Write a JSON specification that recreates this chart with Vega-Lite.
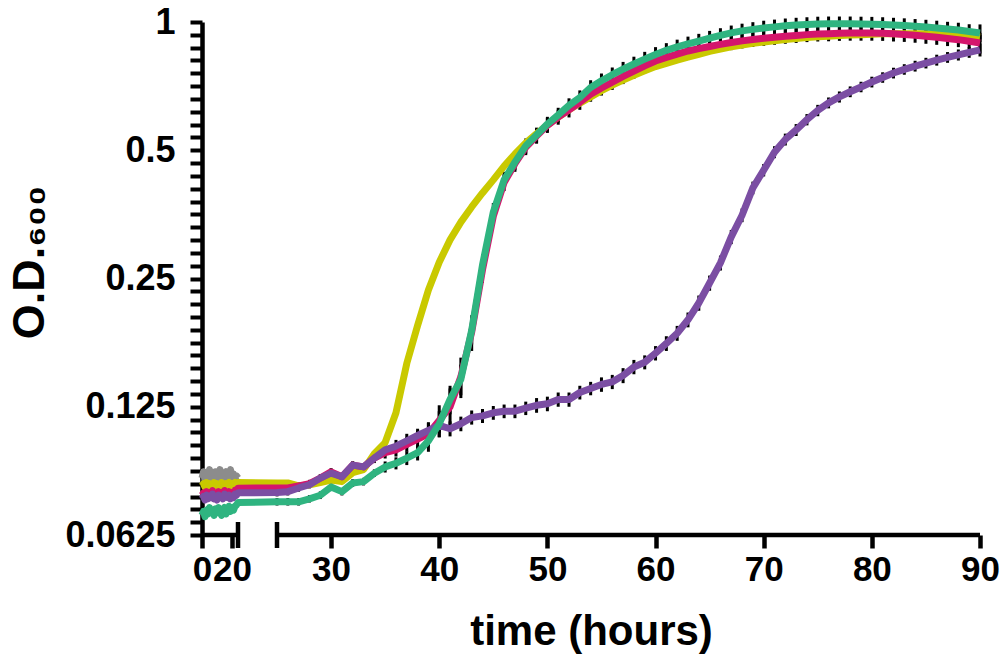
{
  "$schema": "https://vega.github.io/schema/vega-lite/v6.json",
  "width": 778,
  "height": 513,
  "autosize": "none",
  "padding": {"left": 202, "top": 22, "right": 22, "bottom": 127},
  "config": {
    "font": "Liberation Sans",
    "view": {"stroke": null},
    "axis": {
      "grid": false,
      "labelFont": "Liberation Sans",
      "labelFontWeight": "bold",
      "labelColor": "black",
      "labelOverlap": false,
      "labelFlush": false,
      "labelBound": false,
      "tickColor": "black",
      "domainColor": "black",
      "titleFont": "Liberation Sans",
      "titleFontWeight": "bold",
      "titleColor": "black"
    },
    "axisX": {
      "domain": false,
      "tickSize": 13,
      "tickWidth": 4.5,
      "labelFontSize": 35,
      "labelPadding": 4,
      "titleFontSize": 42,
      "titlePadding": 24
    },
    "axisY": {
      "domain": true,
      "domainWidth": 4.5,
      "tickSize": 12,
      "tickWidth": 4,
      "labelFontSize": 36,
      "labelPadding": 15,
      "titleFontSize": 45,
      "titlePadding": 12,
      "titleY": 240
    }
  },
  "datasets": {
    "xbreak": [
      {"x1": 0, "x2": 24, "cap": 24},
      {"x1": 25, "x2": 90, "cap": 25}
    ],
    "curves": [
      {"g":"a","t":0,"v":0.085},{"g":"a","t":1,"v":0.088},{"g":"a","t":2,"v":0.084},{"g":"a","t":3,"v":0.087},{"g":"a","t":4,"v":0.086},
      {"g":"a","t":5,"v":0.089},{"g":"a","t":6,"v":0.085},{"g":"a","t":7,"v":0.087},{"g":"a","t":8,"v":0.084},{"g":"a","t":9,"v":0.088},
      {"g":"a","t":10,"v":0.086},{"g":"a","t":11,"v":0.085},{"g":"a","t":12,"v":0.089},{"g":"a","t":13,"v":0.086},{"g":"a","t":14,"v":0.084},
      {"g":"a","t":15,"v":0.087},{"g":"a","t":16,"v":0.088},{"g":"a","t":17,"v":0.085},{"g":"a","t":18,"v":0.086},{"g":"a","t":19,"v":0.089},
      {"g":"a","t":20,"v":0.084},{"g":"a","t":21,"v":0.087},{"g":"a","t":22,"v":0.085},{"g":"a","t":23,"v":0.086},{"g":"a","t":24,"v":0.085},

      {"g":"b","t":0,"v":0.0815},{"g":"b","t":1,"v":0.0825},{"g":"b","t":2,"v":0.081},{"g":"b","t":3,"v":0.083},{"g":"b","t":4,"v":0.0815},
      {"g":"b","t":5,"v":0.0825},{"g":"b","t":6,"v":0.082},{"g":"b","t":7,"v":0.081},{"g":"b","t":8,"v":0.083},{"g":"b","t":9,"v":0.0815},
      {"g":"b","t":10,"v":0.0825},{"g":"b","t":11,"v":0.082},{"g":"b","t":12,"v":0.0815},{"g":"b","t":13,"v":0.083},{"g":"b","t":14,"v":0.082},
      {"g":"b","t":15,"v":0.081},{"g":"b","t":16,"v":0.0825},{"g":"b","t":17,"v":0.082},{"g":"b","t":18,"v":0.083},{"g":"b","t":19,"v":0.0815},
      {"g":"b","t":20,"v":0.0825},{"g":"b","t":21,"v":0.082},{"g":"b","t":22,"v":0.083},{"g":"b","t":23,"v":0.0825},{"g":"b","t":24,"v":0.083},
      {"g":"b","t":25,"v":0.0828,"err":0.001},{"g":"b","t":26,"v":0.0828,"err":0.001},{"g":"b","t":27,"v":0.0815,"err":0.001},{"g":"b","t":28,"v":0.082,"err":0.001},
      {"g":"b","t":29,"v":0.083,"err":0.001},{"g":"b","t":30,"v":0.0841,"err":0.001},{"g":"b","t":31,"v":0.0834,"err":0.001},{"g":"b","t":32,"v":0.0875,"err":0.001},
      {"g":"b","t":33,"v":0.089,"err":0.001},{"g":"b","t":34,"v":0.097,"err":0.0012},{"g":"b","t":35,"v":0.103,"err":0.0012},{"g":"b","t":36,"v":0.121,"err":0.0015},
      {"g":"b","t":37,"v":0.158,"err":0.002},{"g":"b","t":38,"v":0.194,"err":0.0025},{"g":"b","t":39,"v":0.235,"err":0.003},{"g":"b","t":40,"v":0.273,"err":0.0035},
      {"g":"b","t":41,"v":0.308,"err":0.004},{"g":"b","t":42,"v":0.339,"err":0.004},{"g":"b","t":43,"v":0.368,"err":0.0045},{"g":"b","t":44,"v":0.397,"err":0.005},
      {"g":"b","t":45,"v":0.426,"err":0.005},{"g":"b","t":46,"v":0.459,"err":0.0055},{"g":"b","t":47,"v":0.49,"err":0.006},{"g":"b","t":48,"v":0.52,"err":0.006},
      {"g":"b","t":49,"v":0.547,"err":0.0065},{"g":"b","t":50,"v":0.573,"err":0.007},{"g":"b","t":51,"v":0.598,"err":0.007},{"g":"b","t":52,"v":0.622,"err":0.0075},
      {"g":"b","t":53,"v":0.645,"err":0.008},{"g":"b","t":54,"v":0.667,"err":0.008},{"g":"b","t":55,"v":0.69,"err":0.008},{"g":"b","t":56,"v":0.711,"err":0.0085},
      {"g":"b","t":57,"v":0.731,"err":0.009},{"g":"b","t":58,"v":0.75,"err":0.009},{"g":"b","t":59,"v":0.768,"err":0.009},{"g":"b","t":60,"v":0.786,"err":0.0095},
      {"g":"b","t":61,"v":0.8,"err":0.0095},{"g":"b","t":62,"v":0.814,"err":0.01},{"g":"b","t":63,"v":0.827,"err":0.01},{"g":"b","t":64,"v":0.84,"err":0.01},
      {"g":"b","t":65,"v":0.853,"err":0.01},{"g":"b","t":66,"v":0.864,"err":0.01},{"g":"b","t":67,"v":0.874,"err":0.0105},{"g":"b","t":68,"v":0.883,"err":0.0105},
      {"g":"b","t":69,"v":0.891,"err":0.011},{"g":"b","t":70,"v":0.898,"err":0.011},{"g":"b","t":71,"v":0.904,"err":0.011},{"g":"b","t":72,"v":0.91,"err":0.011},
      {"g":"b","t":73,"v":0.915,"err":0.011},{"g":"b","t":74,"v":0.919,"err":0.011},{"g":"b","t":75,"v":0.923,"err":0.011},{"g":"b","t":76,"v":0.926,"err":0.011},
      {"g":"b","t":77,"v":0.929,"err":0.011},{"g":"b","t":78,"v":0.932,"err":0.011},{"g":"b","t":79,"v":0.934,"err":0.011},{"g":"b","t":80,"v":0.936,"err":0.011},
      {"g":"b","t":81,"v":0.938,"err":0.011},{"g":"b","t":82,"v":0.939,"err":0.011},{"g":"b","t":83,"v":0.939,"err":0.011},{"g":"b","t":84,"v":0.939,"err":0.011},
      {"g":"b","t":85,"v":0.938,"err":0.011},{"g":"b","t":86,"v":0.936,"err":0.011},{"g":"b","t":87,"v":0.934,"err":0.011},{"g":"b","t":88,"v":0.932,"err":0.011},
      {"g":"b","t":89,"v":0.928,"err":0.011},{"g":"b","t":90,"v":0.922,"err":0.011},

      {"g":"c","t":0,"v":0.0775},{"g":"c","t":1,"v":0.0785},{"g":"c","t":2,"v":0.0765},{"g":"c","t":3,"v":0.079},{"g":"c","t":4,"v":0.077},
      {"g":"c","t":5,"v":0.0785},{"g":"c","t":6,"v":0.0775},{"g":"c","t":7,"v":0.0795},{"g":"c","t":8,"v":0.077},{"g":"c","t":9,"v":0.078},
      {"g":"c","t":10,"v":0.0765},{"g":"c","t":11,"v":0.079},{"g":"c","t":12,"v":0.0775},{"g":"c","t":13,"v":0.0785},{"g":"c","t":14,"v":0.077},
      {"g":"c","t":15,"v":0.0795},{"g":"c","t":16,"v":0.078},{"g":"c","t":17,"v":0.0775},{"g":"c","t":18,"v":0.079},{"g":"c","t":19,"v":0.077},
      {"g":"c","t":20,"v":0.0785},{"g":"c","t":21,"v":0.078},{"g":"c","t":22,"v":0.0795},{"g":"c","t":23,"v":0.079},{"g":"c","t":24,"v":0.0805},
      {"g":"c","t":25,"v":0.0806,"err":0.0016},{"g":"c","t":26,"v":0.0806,"err":0.0016},{"g":"c","t":27,"v":0.0815,"err":0.0016},{"g":"c","t":28,"v":0.0825,"err":0.0017},
      {"g":"c","t":29,"v":0.085,"err":0.0017},{"g":"c","t":30,"v":0.0879,"err":0.0018},{"g":"c","t":31,"v":0.0856,"err":0.0017},{"g":"c","t":32,"v":0.0912,"err":0.0018},
      {"g":"c","t":33,"v":0.0903,"err":0.0018},{"g":"c","t":34,"v":0.0947,"err":0.002},{"g":"c","t":35,"v":0.0975,"err":0.003},{"g":"c","t":36,"v":0.099,"err":0.0035},
      {"g":"c","t":37,"v":0.102,"err":0.004},{"g":"c","t":38,"v":0.105,"err":0.005},{"g":"c","t":39,"v":0.108,"err":0.007},{"g":"c","t":40,"v":0.116,"err":0.01},
      {"g":"c","t":41,"v":0.125,"err":0.013},{"g":"c","t":42,"v":0.147,"err":0.016},{"g":"c","t":43,"v":0.187,"err":0.018},{"g":"c","t":44,"v":0.262,"err":0.018},
      {"g":"c","t":45,"v":0.35,"err":0.018},{"g":"c","t":46,"v":0.42,"err":0.019},{"g":"c","t":47,"v":0.465,"err":0.02},{"g":"c","t":48,"v":0.508,"err":0.021},
      {"g":"c","t":49,"v":0.54,"err":0.022},{"g":"c","t":50,"v":0.572,"err":0.023},{"g":"c","t":51,"v":0.598,"err":0.024},{"g":"c","t":52,"v":0.622,"err":0.025},
      {"g":"c","t":53,"v":0.648,"err":0.026},{"g":"c","t":54,"v":0.677,"err":0.027},{"g":"c","t":55,"v":0.7,"err":0.028},{"g":"c","t":56,"v":0.722,"err":0.029},
      {"g":"c","t":57,"v":0.745,"err":0.03},{"g":"c","t":58,"v":0.767,"err":0.031},{"g":"c","t":59,"v":0.789,"err":0.032},{"g":"c","t":60,"v":0.81,"err":0.032},
      {"g":"c","t":61,"v":0.826,"err":0.033},{"g":"c","t":62,"v":0.841,"err":0.034},{"g":"c","t":63,"v":0.855,"err":0.034},{"g":"c","t":64,"v":0.866,"err":0.035},
      {"g":"c","t":65,"v":0.876,"err":0.035},{"g":"c","t":66,"v":0.886,"err":0.035},{"g":"c","t":67,"v":0.895,"err":0.036},{"g":"c","t":68,"v":0.903,"err":0.036},
      {"g":"c","t":69,"v":0.91,"err":0.036},{"g":"c","t":70,"v":0.916,"err":0.037},{"g":"c","t":71,"v":0.921,"err":0.037},{"g":"c","t":72,"v":0.926,"err":0.037},
      {"g":"c","t":73,"v":0.93,"err":0.037},{"g":"c","t":74,"v":0.934,"err":0.037},{"g":"c","t":75,"v":0.937,"err":0.037},{"g":"c","t":76,"v":0.939,"err":0.038},
      {"g":"c","t":77,"v":0.941,"err":0.038},{"g":"c","t":78,"v":0.942,"err":0.038},{"g":"c","t":79,"v":0.942,"err":0.038},{"g":"c","t":80,"v":0.942,"err":0.038},
      {"g":"c","t":81,"v":0.941,"err":0.038},{"g":"c","t":82,"v":0.938,"err":0.038},{"g":"c","t":83,"v":0.935,"err":0.037},{"g":"c","t":84,"v":0.931,"err":0.037},
      {"g":"c","t":85,"v":0.926,"err":0.037},{"g":"c","t":86,"v":0.921,"err":0.037},{"g":"c","t":87,"v":0.915,"err":0.037},{"g":"c","t":88,"v":0.909,"err":0.036},
      {"g":"c","t":89,"v":0.901,"err":0.036},{"g":"c","t":90,"v":0.893,"err":0.05},

      {"g":"d","t":0,"v":0.076},{"g":"d","t":1,"v":0.077},{"g":"d","t":2,"v":0.0755},{"g":"d","t":3,"v":0.0775},{"g":"d","t":4,"v":0.076},
      {"g":"d","t":5,"v":0.077},{"g":"d","t":6,"v":0.0765},{"g":"d","t":7,"v":0.078},{"g":"d","t":8,"v":0.076},{"g":"d","t":9,"v":0.077},
      {"g":"d","t":10,"v":0.0755},{"g":"d","t":11,"v":0.0775},{"g":"d","t":12,"v":0.0765},{"g":"d","t":13,"v":0.077},{"g":"d","t":14,"v":0.076},
      {"g":"d","t":15,"v":0.078},{"g":"d","t":16,"v":0.077},{"g":"d","t":17,"v":0.0765},{"g":"d","t":18,"v":0.0775},{"g":"d","t":19,"v":0.076},
      {"g":"d","t":20,"v":0.077},{"g":"d","t":21,"v":0.0765},{"g":"d","t":22,"v":0.078},{"g":"d","t":23,"v":0.0775},{"g":"d","t":24,"v":0.0785},
      {"g":"d","t":25,"v":0.0786,"err":0.0016},{"g":"d","t":26,"v":0.079,"err":0.0016},{"g":"d","t":27,"v":0.0806,"err":0.0016},{"g":"d","t":28,"v":0.082,"err":0.0016},
      {"g":"d","t":29,"v":0.085,"err":0.0017},{"g":"d","t":30,"v":0.0873,"err":0.0017},{"g":"d","t":31,"v":0.0856,"err":0.0017},{"g":"d","t":32,"v":0.0912,"err":0.0018},
      {"g":"d","t":33,"v":0.0903,"err":0.0018},{"g":"d","t":34,"v":0.0947,"err":0.0025},{"g":"d","t":35,"v":0.099,"err":0.003},{"g":"d","t":36,"v":0.101,"err":0.0035},
      {"g":"d","t":37,"v":0.104,"err":0.004},{"g":"d","t":38,"v":0.107,"err":0.004},{"g":"d","t":39,"v":0.11,"err":0.0045},{"g":"d","t":40,"v":0.113,"err":0.0045},
      {"g":"d","t":41,"v":0.111,"err":0.0045},{"g":"d","t":42,"v":0.114,"err":0.0045},{"g":"d","t":43,"v":0.118,"err":0.0045},{"g":"d","t":44,"v":0.119,"err":0.0045},
      {"g":"d","t":45,"v":0.121,"err":0.0045},{"g":"d","t":46,"v":0.122,"err":0.0045},{"g":"d","t":47,"v":0.122,"err":0.0045},{"g":"d","t":48,"v":0.124,"err":0.0045},
      {"g":"d","t":49,"v":0.126,"err":0.005},{"g":"d","t":50,"v":0.127,"err":0.005},{"g":"d","t":51,"v":0.13,"err":0.005},{"g":"d","t":52,"v":0.13,"err":0.005},
      {"g":"d","t":53,"v":0.135,"err":0.005},{"g":"d","t":54,"v":0.138,"err":0.005},{"g":"d","t":55,"v":0.141,"err":0.0055},{"g":"d","t":56,"v":0.143,"err":0.0055},
      {"g":"d","t":57,"v":0.148,"err":0.006},{"g":"d","t":58,"v":0.155,"err":0.006},{"g":"d","t":59,"v":0.159,"err":0.006},{"g":"d","t":60,"v":0.167,"err":0.0065},
      {"g":"d","t":61,"v":0.176,"err":0.007},{"g":"d","t":62,"v":0.186,"err":0.0075},{"g":"d","t":63,"v":0.2,"err":0.008},{"g":"d","t":64,"v":0.219,"err":0.009},
      {"g":"d","t":65,"v":0.244,"err":0.01},{"g":"d","t":66,"v":0.272,"err":0.011},{"g":"d","t":67,"v":0.313,"err":0.012},{"g":"d","t":68,"v":0.352,"err":0.013},
      {"g":"d","t":69,"v":0.408,"err":0.014},{"g":"d","t":70,"v":0.449,"err":0.015},{"g":"d","t":71,"v":0.495,"err":0.016},{"g":"d","t":72,"v":0.53,"err":0.017},
      {"g":"d","t":73,"v":0.558,"err":0.018},{"g":"d","t":74,"v":0.59,"err":0.018},{"g":"d","t":75,"v":0.62,"err":0.019},{"g":"d","t":76,"v":0.646,"err":0.019},
      {"g":"d","t":77,"v":0.667,"err":0.02},{"g":"d","t":78,"v":0.686,"err":0.02},{"g":"d","t":79,"v":0.704,"err":0.02},{"g":"d","t":80,"v":0.723,"err":0.021},
      {"g":"d","t":81,"v":0.741,"err":0.021},{"g":"d","t":82,"v":0.759,"err":0.022},{"g":"d","t":83,"v":0.774,"err":0.022},{"g":"d","t":84,"v":0.788,"err":0.023},
      {"g":"d","t":85,"v":0.801,"err":0.023},{"g":"d","t":86,"v":0.814,"err":0.024},{"g":"d","t":87,"v":0.826,"err":0.024},{"g":"d","t":88,"v":0.837,"err":0.025},
      {"g":"d","t":89,"v":0.849,"err":0.025},{"g":"d","t":90,"v":0.86,"err":0.03},

      {"g":"e","t":0,"v":0.0695},{"g":"e","t":1,"v":0.071},{"g":"e","t":2,"v":0.069},{"g":"e","t":3,"v":0.0715},{"g":"e","t":4,"v":0.07},
      {"g":"e","t":5,"v":0.0725},{"g":"e","t":6,"v":0.0705},{"g":"e","t":7,"v":0.0715},{"g":"e","t":8,"v":0.0695},{"g":"e","t":9,"v":0.072},
      {"g":"e","t":10,"v":0.0705},{"g":"e","t":11,"v":0.0725},{"g":"e","t":12,"v":0.071},{"g":"e","t":13,"v":0.0695},{"g":"e","t":14,"v":0.0715},
      {"g":"e","t":15,"v":0.0725},{"g":"e","t":16,"v":0.07},{"g":"e","t":17,"v":0.0715},{"g":"e","t":18,"v":0.073},{"g":"e","t":19,"v":0.071},
      {"g":"e","t":20,"v":0.0725},{"g":"e","t":21,"v":0.0715},{"g":"e","t":22,"v":0.073},{"g":"e","t":23,"v":0.0735},{"g":"e","t":24,"v":0.0745},
      {"g":"e","t":25,"v":0.0748,"err":0.0015},{"g":"e","t":26,"v":0.0748,"err":0.0015},{"g":"e","t":27,"v":0.0748,"err":0.0015},{"g":"e","t":28,"v":0.076,"err":0.0015},
      {"g":"e","t":29,"v":0.0775,"err":0.0016},{"g":"e","t":30,"v":0.081,"err":0.0016},{"g":"e","t":31,"v":0.079,"err":0.0016},{"g":"e","t":32,"v":0.0828,"err":0.0017},
      {"g":"e","t":33,"v":0.0834,"err":0.0017},{"g":"e","t":34,"v":0.0873,"err":0.0018},{"g":"e","t":35,"v":0.0903,"err":0.0027},{"g":"e","t":36,"v":0.0921,"err":0.003},
      {"g":"e","t":37,"v":0.0947,"err":0.0035},{"g":"e","t":38,"v":0.0975,"err":0.004},{"g":"e","t":39,"v":0.104,"err":0.006},{"g":"e","t":40,"v":0.114,"err":0.008},
      {"g":"e","t":41,"v":0.13,"err":0.01},{"g":"e","t":42,"v":0.145,"err":0.012},{"g":"e","t":43,"v":0.189,"err":0.014},{"g":"e","t":44,"v":0.269,"err":0.016},
      {"g":"e","t":45,"v":0.358,"err":0.018},{"g":"e","t":46,"v":0.426,"err":0.019},{"g":"e","t":47,"v":0.469,"err":0.02},{"g":"e","t":48,"v":0.512,"err":0.021},
      {"g":"e","t":49,"v":0.543,"err":0.022},{"g":"e","t":50,"v":0.576,"err":0.023},{"g":"e","t":51,"v":0.605,"err":0.024},{"g":"e","t":52,"v":0.637,"err":0.025},
      {"g":"e","t":53,"v":0.665,"err":0.026},{"g":"e","t":54,"v":0.702,"err":0.028},{"g":"e","t":55,"v":0.728,"err":0.029},{"g":"e","t":56,"v":0.752,"err":0.03},
      {"g":"e","t":57,"v":0.775,"err":0.031},{"g":"e","t":58,"v":0.797,"err":0.032},{"g":"e","t":59,"v":0.818,"err":0.033},{"g":"e","t":60,"v":0.839,"err":0.034},
      {"g":"e","t":61,"v":0.858,"err":0.034},{"g":"e","t":62,"v":0.874,"err":0.035},{"g":"e","t":63,"v":0.888,"err":0.036},{"g":"e","t":64,"v":0.902,"err":0.036},
      {"g":"e","t":65,"v":0.916,"err":0.037},{"g":"e","t":66,"v":0.93,"err":0.037},{"g":"e","t":67,"v":0.943,"err":0.038},{"g":"e","t":68,"v":0.953,"err":0.038},
      {"g":"e","t":69,"v":0.961,"err":0.038},{"g":"e","t":70,"v":0.968,"err":0.039},{"g":"e","t":71,"v":0.974,"err":0.039},{"g":"e","t":72,"v":0.98,"err":0.039},
      {"g":"e","t":73,"v":0.984,"err":0.039},{"g":"e","t":74,"v":0.987,"err":0.039},{"g":"e","t":75,"v":0.989,"err":0.04},{"g":"e","t":76,"v":0.99,"err":0.04},
      {"g":"e","t":77,"v":0.99,"err":0.04},{"g":"e","t":78,"v":0.99,"err":0.04},{"g":"e","t":79,"v":0.989,"err":0.04},{"g":"e","t":80,"v":0.988,"err":0.04},
      {"g":"e","t":81,"v":0.986,"err":0.04},{"g":"e","t":82,"v":0.984,"err":0.039},{"g":"e","t":83,"v":0.981,"err":0.039},{"g":"e","t":84,"v":0.977,"err":0.039},
      {"g":"e","t":85,"v":0.973,"err":0.039},{"g":"e","t":86,"v":0.968,"err":0.039},{"g":"e","t":87,"v":0.963,"err":0.038},{"g":"e","t":88,"v":0.958,"err":0.038},
      {"g":"e","t":89,"v":0.95,"err":0.038},{"g":"e","t":90,"v":0.942,"err":0.045}
    ]
  },
  "data": {"name": "curves"},
  "layer": [
    {
      "transform": [{"filter": "isValid(datum.err)"}],
      "mark": {"type": "errorbar", "color": "black", "thickness": 3},
      "encoding": {
        "x": {
          "field": "t",
          "type": "quantitative",
          "title": "time (hours)",
          "scale": {"domain": [0, 24, 25, 90], "range": [0, 36, 75, 778], "nice": false, "zero": false},
          "axis": {"values": [0, 20, 30, 40, 50, 60, 70, 80, 90]}
        },
        "y": {
          "field": "v",
          "type": "quantitative",
          "title": "O.D.₆₀₀",
          "scale": {"type": "log", "base": 2, "domain": [0.0625, 1], "nice": false},
          "axis": {
            "values": [1, 0.93303, 0.87055, 0.81225, 0.75786, 0.70711, 0.65975, 0.61557, 0.57435, 0.53589,
                       0.5, 0.46652, 0.43528, 0.40613, 0.37893, 0.35355, 0.32988, 0.30779, 0.28717, 0.26795,
                       0.25, 0.23326, 0.21764, 0.20306, 0.18946, 0.17678, 0.16494, 0.15389, 0.14359, 0.13397,
                       0.125, 0.11663, 0.10882, 0.10153, 0.09473, 0.08839, 0.08247, 0.07695, 0.07179, 0.06699,
                       0.0625],
            "labelExpr": "indexof([1, 0.5, 0.25, 0.125, 0.0625], datum.value) >= 0 ? toString(datum.value) : ''"
          }
        },
        "yError": {"field": "err"},
        "detail": {"field": "g"}
      }
    },
    {
      "mark": {"type": "line", "strokeWidth": 7, "strokeJoin": "round"},
      "encoding": {
        "x": {"field": "t", "type": "quantitative", "title": "time (hours)"},
        "y": {"field": "v", "type": "quantitative", "title": "O.D.₆₀₀"},
        "color": {
          "field": "g",
          "type": "nominal",
          "legend": null,
          "scale": {
            "domain": ["a", "b", "c", "d", "e"],
            "range": ["#8c8c8c", "#c9c900", "#d4156c", "#7b4ea3", "#2fb480"]
          }
        }
      }
    },
    {
      "data": {"name": "xbreak"},
      "mark": {"type": "rule", "color": "black", "strokeWidth": 4.5},
      "encoding": {
        "x": {"field": "x1", "type": "quantitative", "title": "time (hours)"},
        "x2": {"field": "x2"},
        "y": {"datum": 0.0625, "type": "quantitative", "title": "O.D.₆₀₀"}
      }
    },
    {
      "data": {"name": "xbreak"},
      "mark": {"type": "tick", "orient": "vertical", "color": "black", "opacity": 1, "thickness": 4.5, "size": 26},
      "encoding": {
        "x": {"field": "cap", "type": "quantitative", "title": "time (hours)"},
        "y": {"datum": 0.0625, "type": "quantitative", "title": "O.D.₆₀₀"}
      }
    }
  ]
}
